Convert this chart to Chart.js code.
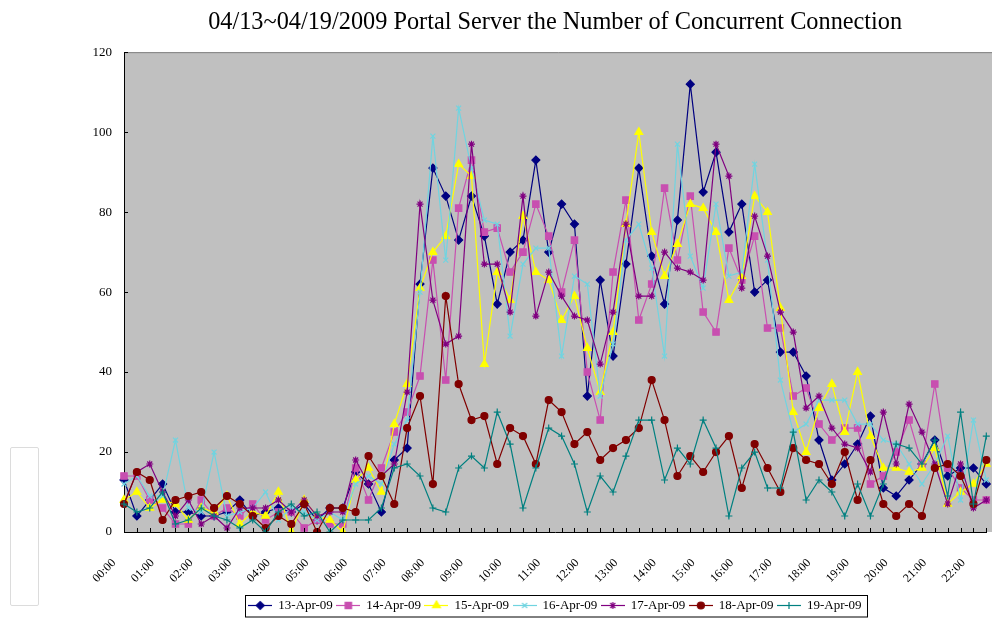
<!DOCTYPE html>
<html>
<head>
<meta charset="utf-8">
<title>Portal Server Concurrent Connection</title>
<script src="https://cdn.jsdelivr.net/npm/chart.js"></script>
<style>
  body { margin: 0; background: #fff; }
  #wrap { position: relative; width: 992px; height: 618px; overflow: hidden; }
  #side { position: absolute; left: 10px; top: 447px; width: 27px; height: 157px; border: 1px solid #dcdcdc; border-radius: 2px; }
</style>
</head>
<body>
<div id="wrap">
  <div id="side"></div>
  <canvas id="connChart"></canvas>
</div>
<script>
// 20 minute samples, only every 3rd one gets a label on the axis
const times = ["00:00","00:20","00:40","01:00","01:20","01:40","02:00","02:20","02:40","03:00","03:20","03:40",
  "04:00","04:20","04:40","05:00","05:20","05:40","06:00","06:20","06:40","07:00","07:20","07:40",
  "08:00","08:20","08:40","09:00","09:20","09:40","10:00","10:20","10:40","11:00","11:20","11:40",
  "12:00","12:20","12:40","13:00","13:20","13:40","14:00","14:20","14:40","15:00","15:20","15:40",
  "16:00","16:20","16:40","17:00","17:20","17:40","18:00","18:20","18:40","19:00","19:20","19:40",
  "20:00","20:20","20:40","21:00","21:20","21:40","22:00","22:20"];

const days = ["13-Apr-09","14-Apr-09","15-Apr-09","16-Apr-09","17-Apr-09","18-Apr-09","19-Apr-09"];

const apr13 = [13,4,8,12,5,5,4,4,5,8,4,5,6, 5,7,3,6,6,15,12,5,18, 21,62,91,84,73,84,74,57,70,73,93,70,
  82,77,34,63,44,67,91,69,57,78,112, 85,95,75,82,60,63,45,45,39,23,13,17, 22,29,11,9,13,17,23,14,16,16,12];
const apr14 = [14,14,8,6,2,2,8,4,6,4,7,3,5, 5,1,3,2,2,16,8,16,25, 30,39,68,38,81,93,75,76,65,70,82,74,
  60,73,40,28,65,83,53,62,86,68,84, 55,50,71,63,74,51,51,34,36,27,23,26, 26,12,14,20,28,17,37,16,11,8,8];
const apr15 = [8,10,6,8,7,3,6,5,9,2,5,4,10, 0,8,4,3,0,13,16,10,27, 37,61,70,74,92,89,42,65,58,79,65,63,
  53,59,46,35,50,77,100,75,64,72,82, 81,75,58,64,84,80,56,30,20,31,37,25, 40,24,16,16,15,16,21,7,10,12,17];
const apr16 = [12,14,9,9,23,6,5,20,4,5,6,10,3, 6,5,3,5,3,12,14,12,22, 28,60,99,68,106,91,78,77,49,67,71,71,
  44,64,62,34,47,73,77,66,44,97,69, 61,82,64,65,92,68,38,25,27,33,33,33, 27,27,23,22,17,12,17,24,8,28,13];
const apr17 = [7,15,17,10,4,8,2,4,1,6,6,6,8, 5,8,4,5,5,18,12,14,17, 35,82,58,47,49,97,67,67,55,84,54,65,
  59,54,53,42,55,77,59,59,70,66,65, 63,97,89,61,79,69,55,50,31,34,26,22, 21,15,30,17,32,25,17,7,17,6,8];
const apr18 = [7,15,13,3,8,9,10,6,9,7,4,1,4, 2,7,0,6,6,5,19,14,7, 26,34,12,59,37,28,29,17,26,24,17,33,
  30,22,25,18,21,23,26,38,28,14,19, 15,20,24,11,22,16,10,21,18,17,12,20, 8,18,7,4,7,4,16,17,14,7,18];
const apr19 = [7,5,6,10,2,3,6,4,3,1,3,0,5, 7,4,5,0,3,3,3,6,16, 17,14,6,5,16,19,16,30,22,6,16,26,
  24,17,5,14,10,19,28,28,13,21,17, 28,21,4,16,20,11,11,25,8,13,10,4, 12,4,12,22,21,17,23,9,30,7,24];

const series = [apr13, apr14, apr15, apr16, apr17, apr18, apr19];
const colors = ['#000080', '#C84FB0', '#FFFF00', '#70D4E0', '#800080', '#800000', '#008080'];
const markers = ['rectRot', 'rect', 'triangle', 'crossRot', 'star', 'circle', 'cross'];
const radii = [4, 4.5, 4.5, 3.5, 3.5, 3.5, 3.5];

const serif = 'Liberation Serif, Times New Roman, serif';

// little line+marker pictures for the legend
function legendIcon(i) {
  const c = document.createElement('canvas');
  c.width = 24; c.height = 11;
  const g = c.getContext('2d');
  g.strokeStyle = colors[i];
  g.fillStyle = colors[i];
  g.lineWidth = 1.2;
  g.beginPath(); g.moveTo(0, 5.5); g.lineTo(24, 5.5); g.stroke();
  Chart.helpers.drawPoint(g, {pointStyle: markers[i], radius: radii[i], borderWidth: 1.2, rotation: 0}, 12, 5.5);
  return c;
}

const plotFrame = {
  id: 'plotFrame',
  beforeDraw(chart) {
    const {ctx, chartArea: a} = chart;
    ctx.save();
    ctx.fillStyle = '#C0C0C0';
    ctx.fillRect(a.left, a.top, a.right - a.left + 8, a.bottom - a.top);
    ctx.strokeStyle = '#808080';
    ctx.lineWidth = 1;
    ctx.beginPath(); ctx.moveTo(a.left, a.top + 0.5); ctx.lineTo(a.right + 8, a.top + 0.5); ctx.stroke();
    ctx.restore();
  },
  afterDraw(chart) {
    const {ctx, chartArea: a, scales: {x, y}, legend} = chart;
    ctx.save();
    ctx.strokeStyle = '#000';
    ctx.lineWidth = 1;
    ctx.beginPath();
    x.ticks.forEach((t, i) => {
      const px = Math.round(x.getPixelForTick(i)) + 0.5;
      ctx.moveTo(px, a.bottom); ctx.lineTo(px, a.bottom - 4);
    });
    y.ticks.forEach((t, i) => {
      const py = Math.round(y.getPixelForTick(i)) + 0.5;
      ctx.moveTo(a.left, py); ctx.lineTo(a.left + 4, py);
    });
    ctx.stroke();
    // box round the legend
    const boxes = legend.legendHitBoxes;
    if (boxes.length) {
      const last = boxes[boxes.length - 1];
      const l = boxes[0].left - 4;
      const r = last.left + last.width + 5;
      ctx.strokeRect(Math.round(l) + 0.5, Math.round(legend.top) + 0.5, Math.round(r - l), 617 - Math.round(legend.top) - 0.5);
    }
    ctx.restore();
  }
};

const chart = new Chart(document.getElementById('connChart'), {
  type: 'line',
  data: {
    labels: times,
    datasets: series.map((vals, i) => ({
      label: days[i],
      data: vals,
      borderColor: colors[i],
      backgroundColor: colors[i],
      borderWidth: 1.2,
      pointStyle: markers[i],
      pointRadius: radii[i],
      pointBorderWidth: 1.2,
      tension: 0,
      order: 7 - i
    }))
  },
  options: {
    responsive: true,
    maintainAspectRatio: false,
    animation: false,
    layout: { padding: { left: 0, right: 4, top: 0, bottom: -4 } },
    plugins: {
      tooltip: { enabled: false },
      title: {
        display: true,
        fullSize: false,
        text: '04/13~04/19/2009 Portal Server the Number of Concurrent Connection',
        color: '#000',
        font: { family: serif, size: 24.3, weight: 'normal' },
        padding: { top: 8, bottom: 15 }
      },
      legend: {
        position: 'bottom',
        fullSize: false,
        labels: {
          usePointStyle: true,
          pointStyleWidth: 23,
          padding: 4,
          color: '#000',
          font: { family: serif, size: 13 },
          generateLabels: () => days.map((d, i) => ({
            text: d, pointStyle: legendIcon(i), fillStyle: colors[i], strokeStyle: colors[i],
            lineWidth: 0, hidden: false, datasetIndex: i, fontColor: '#000'
          }))
        }
      }
    },
    scales: {
      x: {
        type: 'category',
        offset: false,
        grid: { display: false, drawTicks: false },
        border: { display: true, color: '#000', width: 1 },
        ticks: {
          autoSkip: false,
          minRotation: 45,
          maxRotation: 45,
          padding: 24,
          labelOffset: -10,
          color: '#000',
          font: { family: serif, size: 12 },
          callback: (v, i) => (i % 3 === 0 ? times[i] : '')
        },
        afterFit: s => { s.height = 63; s.paddingRight = 0; }
      },
      y: {
        min: 0,
        max: 120,
        grid: { display: false, drawTicks: false },
        border: { display: true, color: '#000', width: 1 },
        ticks: {
          stepSize: 20,
          padding: 12,
          color: '#000',
          font: { family: serif, size: 13 }
        },
        afterFit: s => { s.width = 124; }
      }
    }
  },
  plugins: [plotFrame]
});
</script>
</body>
</html>
